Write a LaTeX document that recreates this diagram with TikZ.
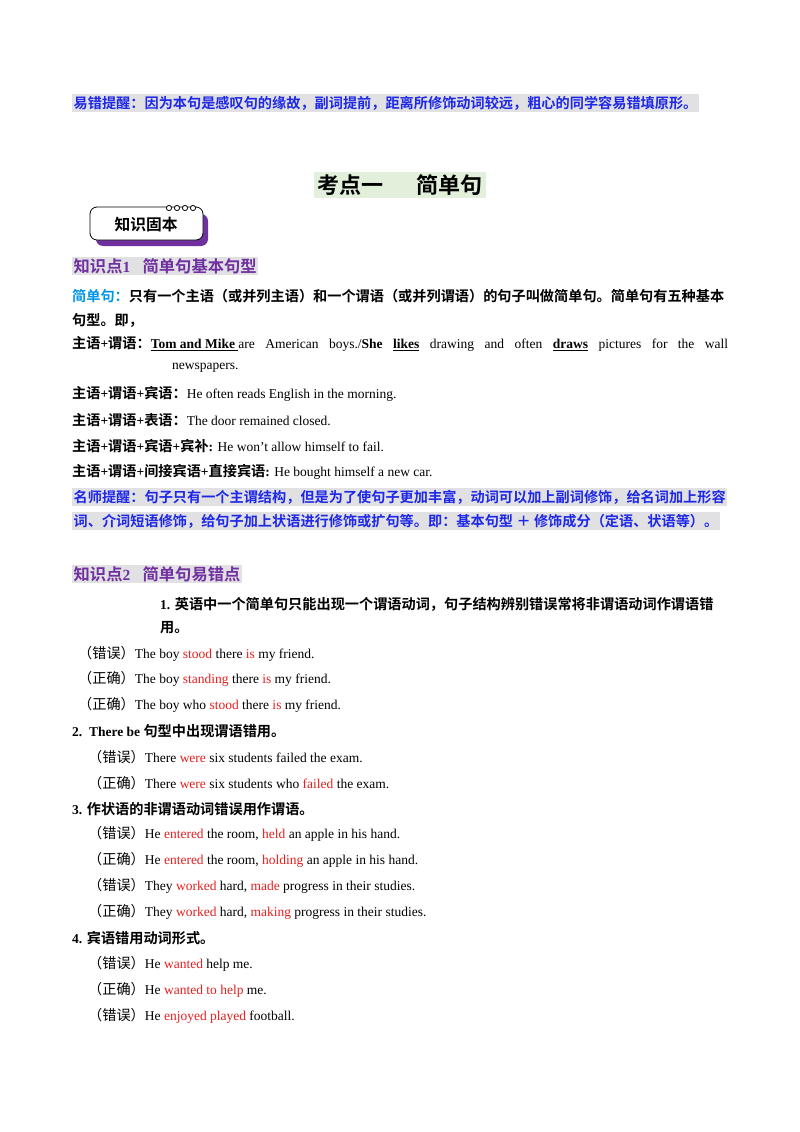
\documentclass[tikz,border=0pt]{standalone}
\usepackage{fontspec}
\setmainfont{Liberation Serif}
\newfontfamily\cjk{Noto Sans CJK SC}[BoldFont={Noto Sans CJK SC Bold},Scale=1.05]
\makeatletter
\XeTeXinterchartokenstate=1
\newXeTeXintercharclass\cjkclass
\count@="4E00 \loop\XeTeXcharclass\count@=\cjkclass\advance\count@ 1 \ifnum\count@<"A000 \repeat
\count@="3000 \loop\XeTeXcharclass\count@=\cjkclass\advance\count@ 1 \ifnum\count@<"3040 \repeat
\count@="FF00 \loop\XeTeXcharclass\count@=\cjkclass\advance\count@ 1 \ifnum\count@<"FFF0 \repeat
\XeTeXinterchartoks 0 \cjkclass={\cjk}
\XeTeXinterchartoks 4095 \cjkclass={\cjk}
\XeTeXinterchartoks \cjkclass 0={\rmfamily}
\XeTeXinterchartoks \cjkclass 4095={\rmfamily}
\makeatother
\usepackage{xcolor}
\definecolor{tipblue}{RGB}{30,40,230}
\definecolor{kpurple}{RGB}{112,48,160}
\definecolor{lblue}{RGB}{0,150,230}
\definecolor{hgray}{RGB}{225,225,228}
\definecolor{hgreen}{RGB}{226,239,218}
\definecolor{rd}{RGB}{230,30,30}
\newcommand\rd[1]{\textcolor{rd}{#1}}
\begin{document}
\begin{tikzpicture}[x=1pt,y=-1pt,
  txt/.style={anchor=west,inner sep=0pt,font=\fontsize{13.5}{16}\selectfont},
  btxt/.style={txt,font=\fontsize{13.5}{16}\selectfont\bfseries},
  hl/.style={btxt,fill=hgray,inner sep=1.5pt}]
\useasboundingbox (0,0) rectangle (800,1132);
\node[hl,text=tipblue] (t1) at (72,103) {易错提醒：因为本句是感叹句的缘故，副词提前，距离所修饰动词较远，粗心的同学容易错填原形。};
\node[anchor=center,inner sep=3pt,fill=hgreen,font=\fontsize{21}{24}\selectfont\bfseries] (title) at (400,185) {考点一\hspace{1.6em}简单句};
% badge
\fill[kpurple,rounded corners=7pt] (96,214) rectangle (208,246);
\draw[thick,fill=white,rounded corners=7pt] (90,207) rectangle (203,240);
\foreach \i in {0,1,2,3} \draw[thick,fill=white] (169+\i*8,208) circle (2.6);
\node[anchor=center,inner sep=0pt,font=\fontsize{15}{18}\selectfont\bfseries] (badge) at (146,225) {知识固本};
\node[hl,text=kpurple,font=\fontsize{15.5}{18}\selectfont\bfseries] (k1) at (72,266) {知识点1\hspace{0.8em}简单句基本句型};
\node[btxt] (p1) at (72,296) {\textcolor{lblue}{简单句：}只有一个主语（或并列主语）和一个谓语（或并列谓语）的句子叫做简单句。简单句有五种基本};
\node[btxt] (p2) at (72,320) {句型。即，};
\node[txt] (s1) at (72,344) {\makebox[656pt][s]{\textbf{主语+谓语：}\textbf{\underline{Tom and Mike }}are American boys./\textbf{She \underline{likes}} drawing and often \textbf{\underline{draws}} pictures for the wall}};
\node[txt] (s1b) at (172,368) {newspapers.};
\node[txt] (s2) at (72,394) {\textbf{主语+谓语+宾语：}He often reads English in the morning.};
\node[txt] (s3) at (72,420) {\textbf{主语+谓语+表语：}The door remained closed.};
\node[txt] (s4) at (72,446) {\textbf{主语+谓语+宾语+宾补:} He won’t allow himself to fail.};
\node[txt] (s5) at (72,472) {\textbf{主语+谓语+间接宾语+直接宾语:} He bought himself a new car.};
\node[hl,text=tipblue] (m1) at (72,497) {名师提醒：句子只有一个主谓结构，但是为了使句子更加丰富，动词可以加上副词修饰，给名词加上形容};
\node[hl,text=tipblue] (m2) at (72,521) {词、介词短语修饰，给句子加上状语进行修饰或扩句等。即：基本句型 ＋ 修饰成分（定语、状语等）。};
\node[hl,text=kpurple,font=\fontsize{15.5}{18}\selectfont\bfseries] (k2) at (72,574) {知识点2\hspace{0.8em}简单句易错点};
\node[btxt] (e1) at (160,604) {1. 英语中一个简单句只能出现一个谓语动词，句子结构辨别错误常将非谓语动词作谓语错};
\node[btxt] (e1b) at (160,628) {用。};
\node[txt] (a1) at (78,654) {（错误）The boy \rd{stood} there \rd{is} my friend.};
\node[txt] (a2) at (78,679) {（正确）The boy \rd{standing} there \rd{is} my friend.};
\node[txt] (a3) at (78,705) {（正确）The boy who \rd{stood} there \rd{is} my friend.};
\node[btxt] (e2) at (72,731) {2.\ \ There be 句型中出现谓语错用。};
\node[txt] (b1) at (88,757) {（错误）There \rd{were} six students failed the exam.};
\node[txt] (b2) at (88,783) {（正确）There \rd{were} six students who \rd{failed} the exam.};
\node[btxt] (e3) at (72,809) {3. 作状语的非谓语动词错误用作谓语。};
\node[txt] (c1) at (88,834) {（错误）He \rd{entered} the room, \rd{held} an apple in his hand.};
\node[txt] (c2) at (88,860) {（正确）He \rd{entered} the room, \rd{holding} an apple in his hand.};
\node[txt] (c3) at (88,886) {（错误）They \rd{worked} hard, \rd{made} progress in their studies.};
\node[txt] (c4) at (88,912) {（正确）They \rd{worked} hard, \rd{making} progress in their studies.};
\node[btxt] (e4) at (72,938) {4. 宾语错用动词形式。};
\node[txt] (d1) at (88,964) {（错误）He \rd{wanted} help me.};
\node[txt] (d2) at (88,990) {（正确）He \rd{wanted to help} me.};
\node[txt] (d3) at (88,1016) {（错误）He \rd{enjoyed played} football.};
\end{tikzpicture}
\end{document}
